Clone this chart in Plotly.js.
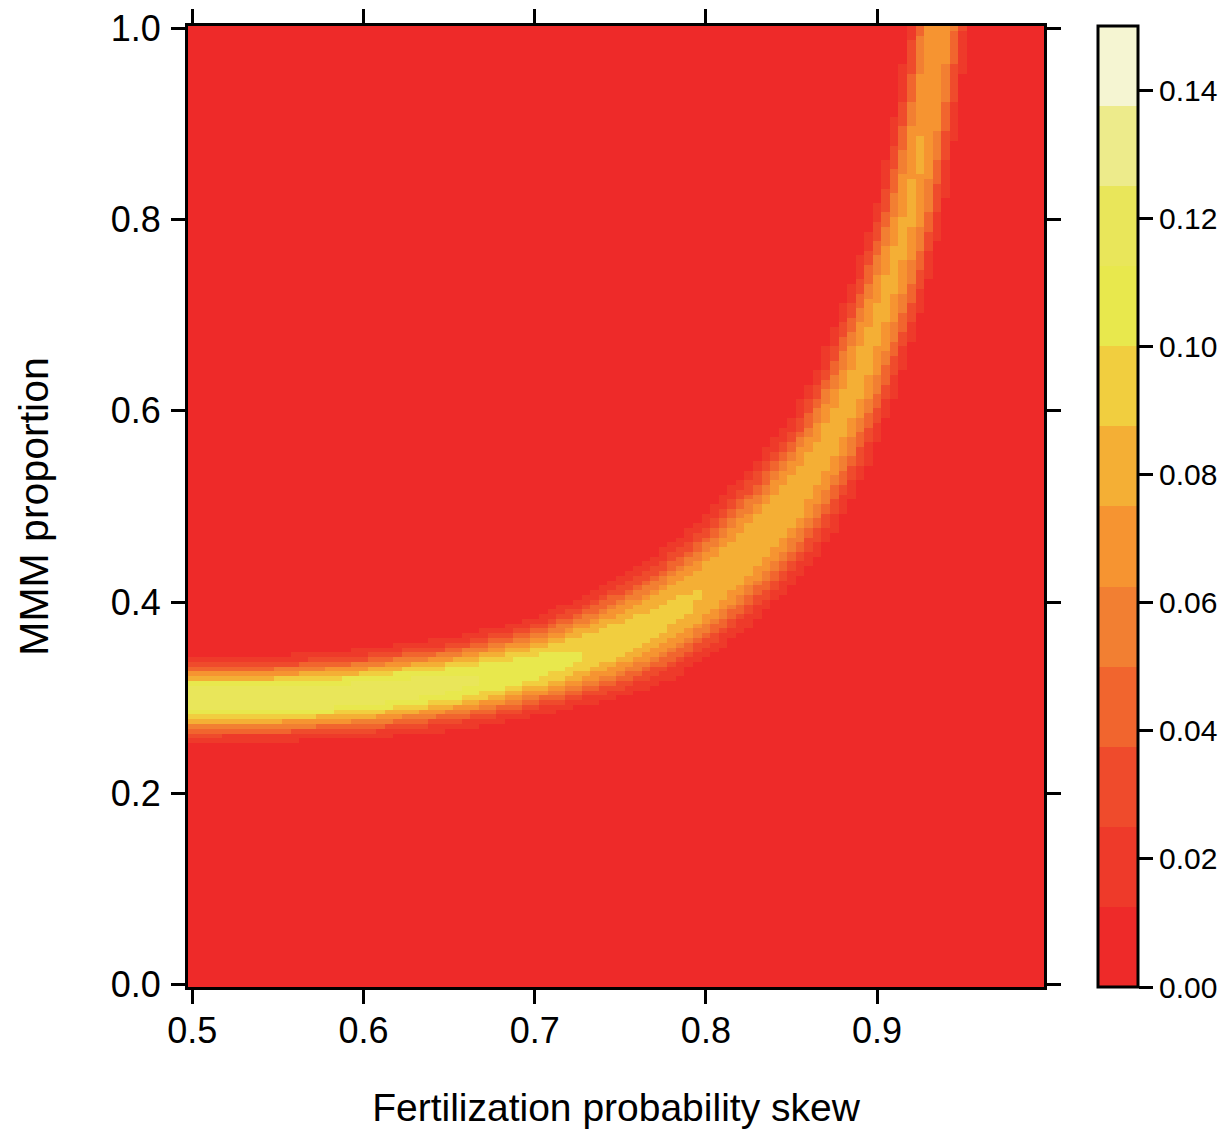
<!DOCTYPE html>
<html>
<head>
<meta charset="utf-8">
<script src="https://cdn.plot.ly/plotly-3.0.1.min.js"></script>
<style>html,body{margin:0;padding:0;background:#fff;}#chart{width:1232px;height:1133px;}</style>
</head>
<body>
<div id="chart"></div>
<script>
// ---- Data ----
// Ridge (crest) of the density surface: points along its centre line
const ridgeX = [0.500, 0.550, 0.600, 0.650, 0.680, 0.710, 0.740, 0.765, 0.787, 0.805, 0.822, 0.848, 0.871, 0.888, 0.905, 0.9185, 0.9295, 0.9355];
const ridgeY = [0.298, 0.299, 0.304, 0.314, 0.324, 0.336, 0.354, 0.374, 0.397, 0.422, 0.449, 0.501, 0.564, 0.630, 0.717, 0.804, 0.915, 1.000];
// Crest value at each ridge point
const ridgePeak = [0.124, 0.123, 0.121, 0.116, 0.110, 0.104, 0.097, 0.092, 0.089, 0.086, 0.084, 0.082, 0.079, 0.078, 0.077, 0.076, 0.075, 0.075];
// Full width (screen px, across the ridge) of the region above the lowest level
const ridgeWidth = [84, 86, 89, 92, 94, 97, 108, 116, 115, 113, 110, 108, 90, 82, 75, 67, 62, 60];

// Grid: 100 skew columns (0.500..0.995), 201 proportion rows (0.000..1.000)
const xStart = 0.5, xStep = 0.005, xCount = 100;
const yStart = 0.0, yStep = 0.005, yCount = 201;

// Axis ticks
const xTickVals = [0.5, 0.6, 0.7, 0.8, 0.9];
const xTickText = ['0.5', '0.6', '0.7', '0.8', '0.9'];
const yTickVals = [0.0, 0.2, 0.4, 0.6, 0.8, 1.0];
const yTickText = ['0.0', '0.2', '0.4', '0.6', '0.8', '1.0'];
const cbTickVals = [0, 0.02, 0.04, 0.06, 0.08, 0.10, 0.12, 0.14];
const cbTickText = ['0.00', '0.02', '0.04', '0.06', '0.08', '0.10', '0.12', '0.14'];

// 12 colour levels of 0.0125 from 0 to 0.15
const levelColors = ['#EE2A29', '#EE3A2A', '#EF4B2C', '#F1652E', '#F27F32', '#F69431',
                     '#F4AF35', '#F1CE3F', '#E8E84D', '#E9E65A', '#EDEB8B', '#F5F5D2'];
const zMin = 0, zMax = 0.15;
const lowestLevel = zMax / levelColors.length;

// ---- Build grid ----
const xCenters = [], yCenters = [];
for (let i = 0; i < xCount; i++) xCenters.push(+(xStart + i * xStep).toFixed(4));
for (let j = 0; j < yCount; j++) yCenters.push(+(yStart + j * yStep).toFixed(4));

const SX = 1712, SY = 956; // pixel scale of the plot area per data unit
const SHAPE = 2.5;          // flat-topped cross-section of the ridge
const nR = ridgeX.length;
function cellValue(x, y) {
  const px = x * SX, py = y * SY;
  let best = Infinity, bp = 0, bw = 1;
  for (let k = 0; k < nR - 1; k++) {
    const ax = ridgeX[k] * SX, ay = ridgeY[k] * SY;
    const bx = ridgeX[k + 1] * SX, by = ridgeY[k + 1] * SY;
    const dx = bx - ax, dy = by - ay;
    let t = ((px - ax) * dx + (py - ay) * dy) / (dx * dx + dy * dy);
    if (k > 0 && t < 0) t = 0;
    if (k < nR - 2 && t > 1) t = 1;
    const qx = ax + t * dx, qy = ay + t * dy;
    const d2 = (px - qx) * (px - qx) + (py - qy) * (py - qy);
    if (d2 < best) {
      best = d2;
      const tc = Math.min(1, Math.max(0, t));
      bp = ridgePeak[k] + (ridgePeak[k + 1] - ridgePeak[k]) * tc;
      bw = ridgeWidth[k] + (ridgeWidth[k + 1] - ridgeWidth[k]) * tc;
    }
  }
  const s = (bw / 2) / Math.pow(Math.log(bp / lowestLevel), 1 / SHAPE);
  return bp * Math.exp(-Math.pow(Math.sqrt(best) / s, SHAPE));
}
const z = yCenters.map(y => xCenters.map(x => cellValue(x, y)));

const colorscale = [];
levelColors.forEach((c, i) => {
  colorscale.push([i / levelColors.length, c]);
  colorscale.push([(i + 1) / levelColors.length, c]);
});

const FONT = 'Liberation Sans, Arial, Helvetica, sans-serif';

const trace = {
  type: 'heatmap',
  x: xCenters, y: yCenters, z: z,
  zmin: zMin, zmax: zMax,
  zsmooth: false,
  colorscale: colorscale,
  hoverinfo: 'skip',
  colorbar: {
    x: 1.0631, xanchor: 'left', xpad: 0,
    y: 0.5, yanchor: 'middle', ypad: 0,
    len: 1, lenmode: 'fraction',
    thickness: 40, thicknessmode: 'pixels',
    outlinewidth: 3, outlinecolor: '#000',
    tickmode: 'array', tickvals: cbTickVals, ticktext: cbTickText,
    ticks: 'outside', ticklen: 14, tickwidth: 3, tickcolor: '#000',
    tickfont: {family: FONT, size: 30, color: '#000'}
  }
};

const axisCommon = {
  ticks: 'outside', ticklen: 14, tickwidth: 3, tickcolor: '#000',
  showline: true, linewidth: 3, linecolor: '#000', mirror: 'allticks',
  showgrid: false, zeroline: false,
  tickfont: {family: FONT, size: 36, color: '#000'},
  automargin: false
};

const layout = {
  width: 1232, height: 1133,
  margin: {l: 188, r: 188, t: 26, b: 146},
  paper_bgcolor: '#fff', plot_bgcolor: '#fff',
  font: {family: FONT, color: '#000'},
  xaxis: Object.assign({}, axisCommon, {
    range: [0.4975, 0.9975],
    tickmode: 'array', tickvals: xTickVals, ticktext: xTickText,
    ticklabelstandoff: -4,
    title: {text: 'Fertilization probability skew', font: {family: FONT, size: 39, color: '#000'}, standoff: 44}
  }),
  yaxis: Object.assign({}, axisCommon, {
    range: [-0.0025, 1.0025],
    tickmode: 'array', tickvals: yTickVals, ticktext: yTickText,
    ticklabelstandoff: 3,
    title: {text: 'MMM proportion', font: {family: FONT, size: 41, color: '#000'}, standoff: 50}
  })
};

Plotly.newPlot('chart', [trace], layout, {staticPlot: true, displayModeBar: false});
</script>
</body>
</html>
